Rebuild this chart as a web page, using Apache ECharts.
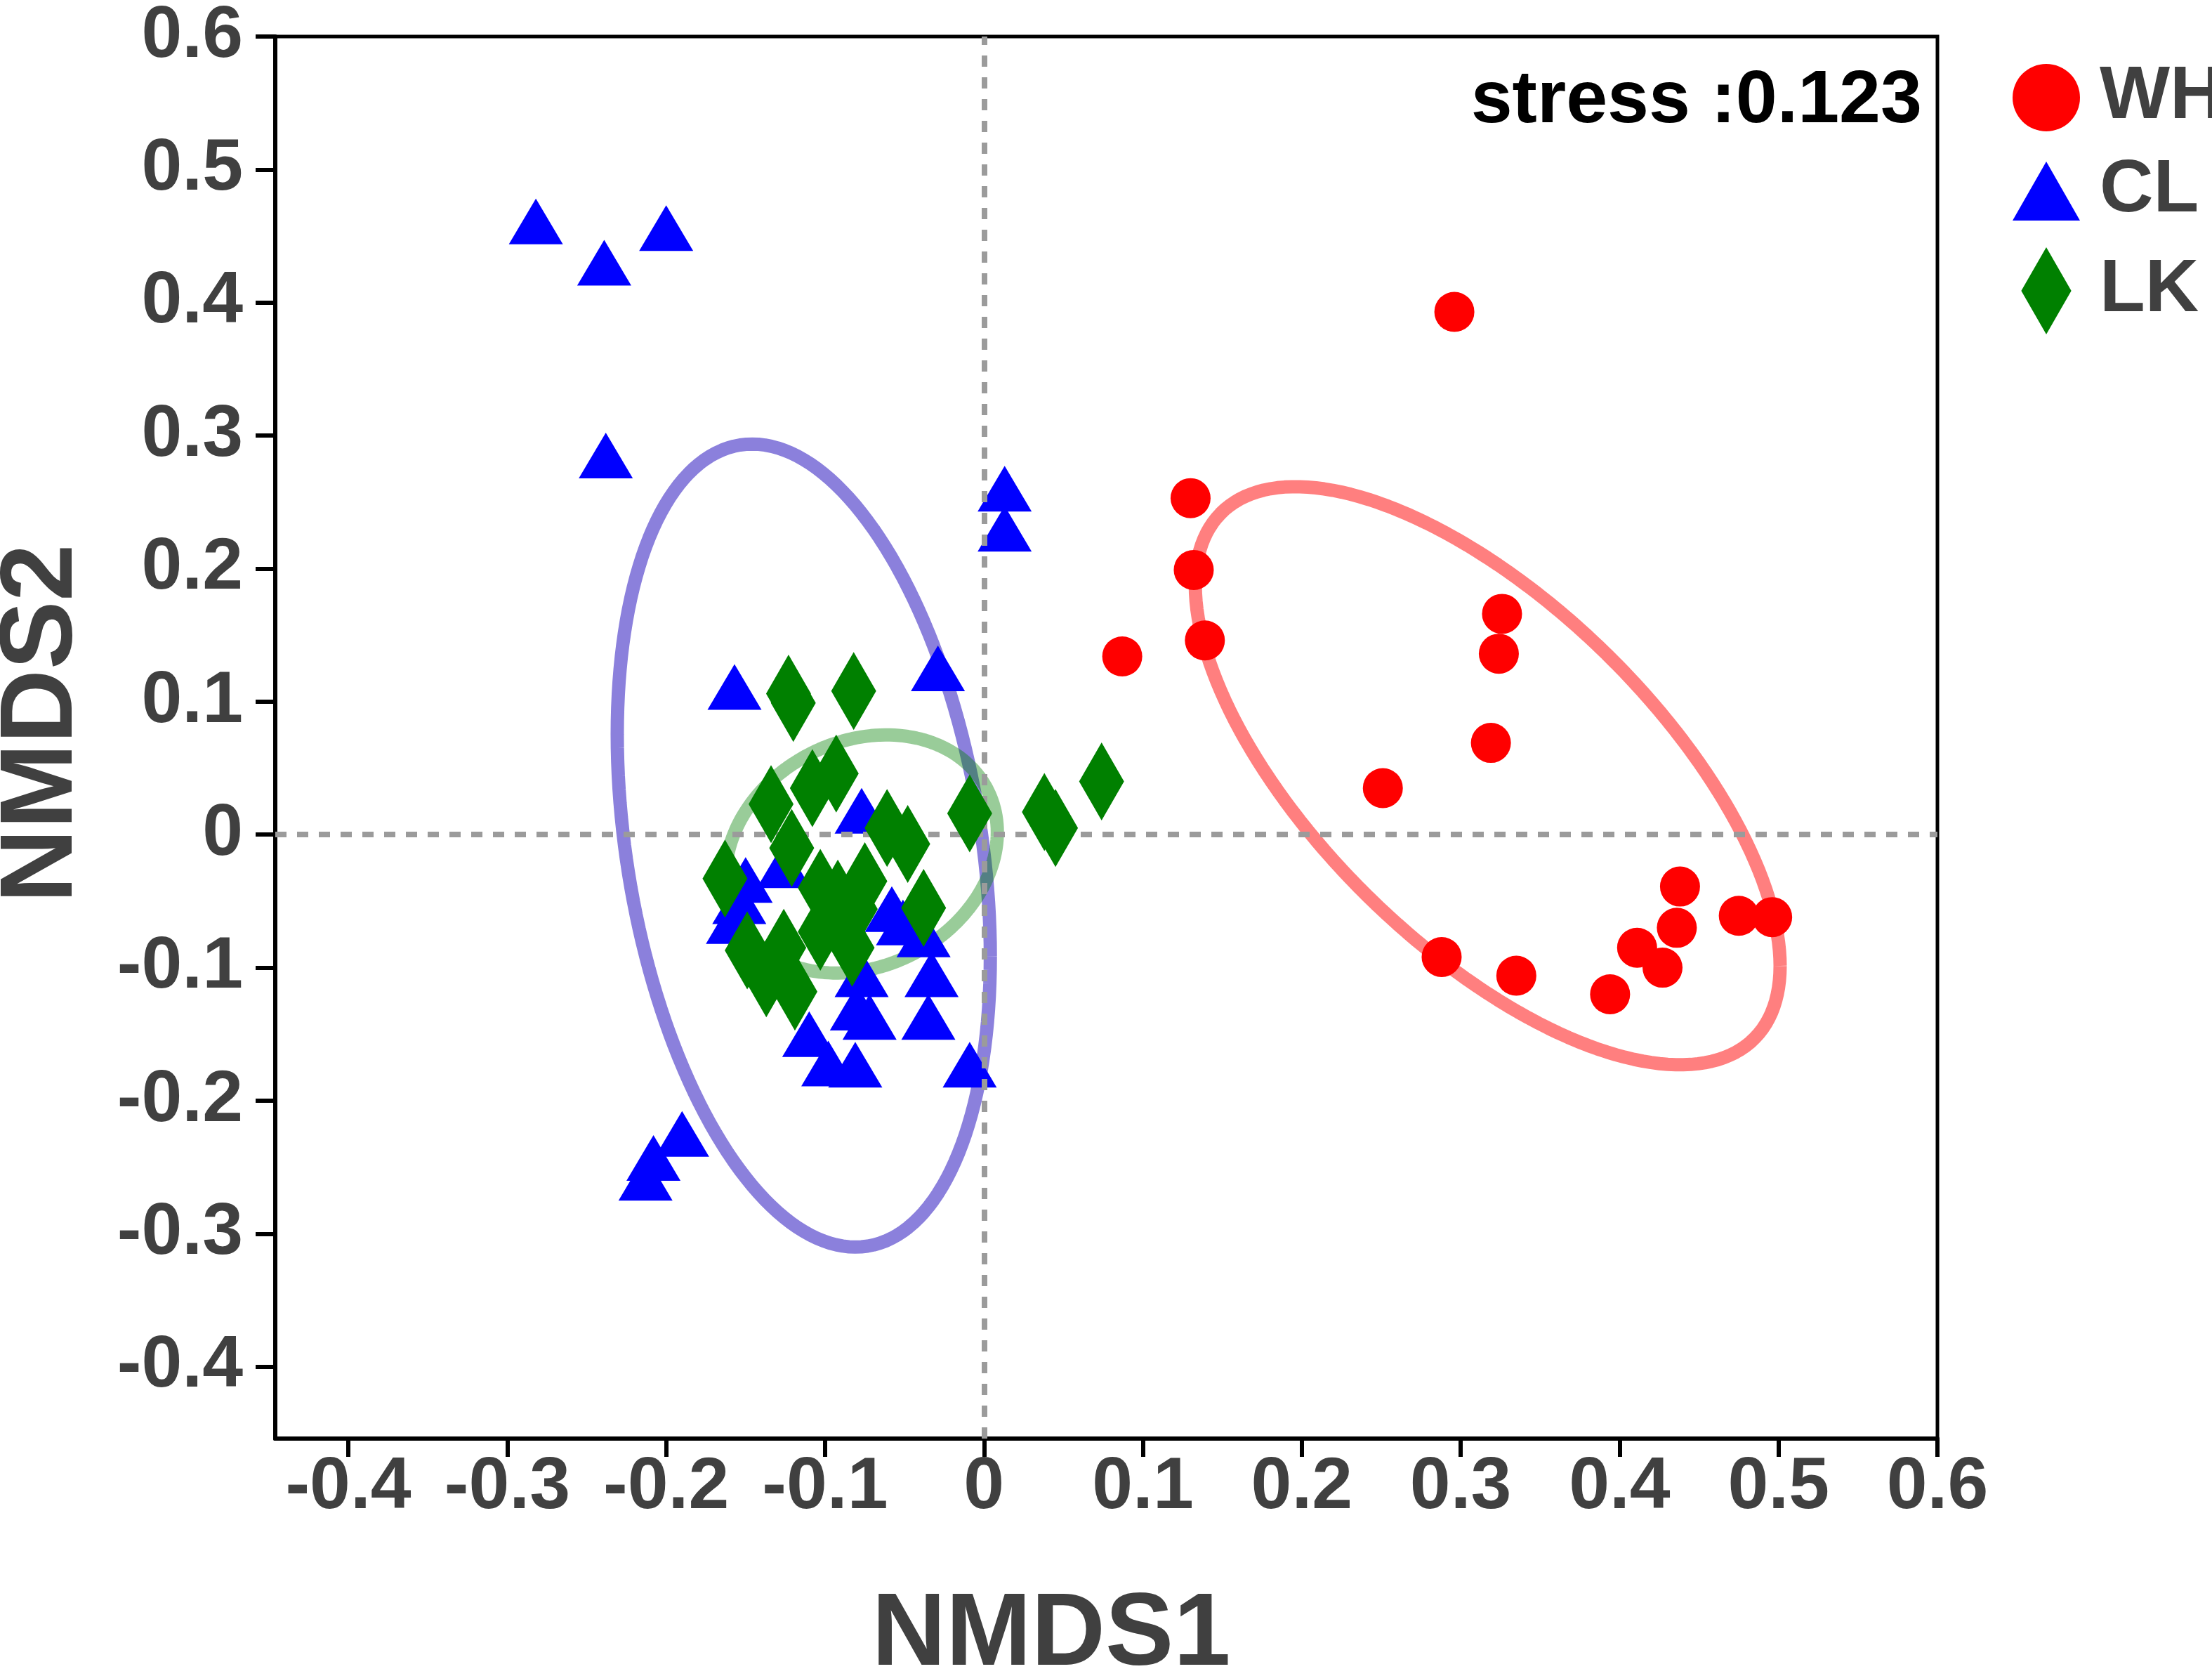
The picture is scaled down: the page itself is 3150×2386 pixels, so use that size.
<!DOCTYPE html>
<html>
<head>
<meta charset="utf-8">
<script src="https://cdn.jsdelivr.net/npm/echarts@6/dist/echarts.min.js"></script>
<style>
html, body { margin: 0; padding: 0; background: #fff; }
#chart { width: 3150px; height: 2386px; }
</style>
</head>
<body>
<div id="chart"></div>
<script>
// NMDS scores, one [NMDS1, NMDS2] pair per sample
var whPoints = [
  [0.296, 0.393], [0.087, 0.134], [0.130, 0.253], [0.132, 0.199], [0.139, 0.146],
  [0.326, 0.166], [0.324, 0.136], [0.319, 0.069], [0.251, 0.035], [0.438, -0.039],
  [0.475, -0.061], [0.496, -0.062], [0.436, -0.070], [0.411, -0.085], [0.427, -0.100],
  [0.288, -0.092], [0.335, -0.106], [0.394, -0.120]
];
var clPoints = [
  [-0.282, 0.461], [-0.239, 0.430], [-0.200, 0.456], [-0.238, 0.285], [0.013, 0.260],
  [0.013, 0.230], [-0.157, 0.111], [-0.029, 0.125], [-0.077, 0.018], [-0.150, -0.034],
  [-0.154, -0.050], [-0.158, -0.065], [-0.126, -0.023], [-0.058, -0.056], [-0.038, -0.075],
  [-0.033, -0.105], [-0.035, -0.137], [-0.077, -0.105], [-0.080, -0.130], [-0.072, -0.137],
  [-0.110, -0.150], [-0.098, -0.172], [-0.081, -0.173], [-0.009, -0.173], [-0.190, -0.225],
  [-0.208, -0.243], [-0.213, -0.258], [-0.051, -0.066]
];
var lkPoints = [
  [-0.123, 0.106], [-0.120, 0.099], [-0.082, 0.108], [-0.093, 0.046], [-0.108, 0.035],
  [-0.134, 0.023], [-0.121, -0.010], [-0.163, -0.033], [-0.061, 0.005], [-0.048, -0.007],
  [-0.038, -0.055], [-0.103, -0.040], [-0.081, -0.056], [-0.083, -0.085], [-0.103, -0.073],
  [-0.149, -0.087], [-0.137, -0.108], [-0.119, -0.118], [-0.126, -0.085], [-0.075, -0.035],
  [-0.092, -0.048], [-0.009, 0.016], [0.038, 0.017], [0.045, 0.005], [0.074, 0.040]
];

// ellipse centre and spread [sxx, sxy, syy] per group
var groupNames = ['WH', 'CL', 'LK'];
var ellipseCenters = [[0.317, 0.0443], [-0.1134, -0.0082], [-0.0771, -0.0145]];
var ellipseSpreads = [[0.03386, -0.0263, 0.04722], [0.01378, -0.0098, 0.0911], [0.00731, 0.0014, 0.00801]];

var xTicks = [-0.4, -0.3, -0.2, -0.1, 0, 0.1, 0.2, 0.3, 0.4, 0.5, 0.6];
var yTicks = [-0.4, -0.3, -0.2, -0.1, 0, 0.1, 0.2, 0.3, 0.4, 0.5, 0.6];
var stressText = 'stress :0.123';

var FONT = "'Liberation Sans', Arial, sans-serif";
var LABEL = '#404040';

// outline of an ellipse in data units
function ellipseOutline(c, s) {
  var a = Math.sqrt(s[0]);
  var b = s[1] / a;
  var d = Math.sqrt(s[2] - b * b);
  var pts = [];
  for (var i = 0; i <= 180; i++) {
    var t = i / 180 * 2 * Math.PI;
    pts.push([c[0] + a * Math.cos(t), c[1] + b * Math.cos(t) + d * Math.sin(t)]);
  }
  return pts;
}

function tickText(v) {
  return v === 0 ? '0' : v.toFixed(1);
}

var ellipseColors = ['rgba(255,0,0,0.5)', '#8b80dc', 'rgba(0,128,0,0.4)'];

var chart = echarts.init(document.getElementById('chart'));

var series = [
  {
    name: 'zero',
    type: 'line',
    data: [],
    silent: true,
    z: 1,
    markLine: {
      silent: true,
      symbol: ['none', 'none'],
      label: { show: false },
      lineStyle: { type: [16, 15], color: '#9b9b9b', width: 8 },
      data: [{ xAxis: 0 }, { yAxis: 0 }]
    }
  }
];

for (var g = 0; g < 3; g++) {
  series.push({
    name: groupNames[g] + ' ellipse',
    type: 'line',
    data: ellipseOutline(ellipseCenters[g], ellipseSpreads[g]),
    showSymbol: false,
    symbol: 'none',
    silent: true,
    z: 2,
    lineStyle: { color: ellipseColors[g], width: 19 }
  });
}

series.push(
  {
    name: 'WH', type: 'scatter', data: whPoints, z: 3,
    symbol: 'circle', symbolSize: 57,
    itemStyle: { color: '#ff0000', opacity: 1 }
  },
  {
    name: 'CL', type: 'scatter', data: clPoints, z: 4,
    symbol: 'triangle', symbolSize: [77, 65],
    itemStyle: { color: '#0000ff', opacity: 1 }
  },
  {
    name: 'LK', type: 'scatter', data: lkPoints, z: 5,
    symbol: 'diamond', symbolSize: [64, 111],
    itemStyle: { color: '#008000', opacity: 1 }
  }
);

var option = {
  animation: false,
  backgroundColor: '#ffffff',
  grid: {
    left: 392, right: 391, top: 45, bottom: 338,
    show: true, borderColor: '#000', borderWidth: 5, backgroundColor: 'transparent'
  },
  xAxis: {
    type: 'value',
    min: -0.446,
    max: 0.6,
    splitLine: { show: false },
    axisLine: { onZero: false, lineStyle: { color: '#000', width: 6 } },
    axisTick: { show: true, inside: false, length: 26, customValues: xTicks, lineStyle: { color: '#000', width: 6 } },
    axisLabel: {
      customValues: xTicks, formatter: tickText, margin: 18,
      color: LABEL, fontSize: 104, fontWeight: 'bold', fontFamily: FONT
    }
  },
  yAxis: {
    type: 'value',
    min: -0.454,
    max: 0.6,
    splitLine: { show: false },
    axisLine: { onZero: false, lineStyle: { color: '#000', width: 6 } },
    axisTick: { show: true, inside: false, length: 28, customValues: yTicks, lineStyle: { color: '#000', width: 6 } },
    axisLabel: {
      customValues: yTicks, formatter: tickText, margin: 46,
      color: LABEL, fontSize: 104, fontWeight: 'bold', fontFamily: FONT
    }
  },
  legend: {
    data: [
      { name: 'WH', icon: 'circle' },
      { name: 'CL', icon: 'path://M51.5,0L103,90L0,90Z' },
      { name: 'LK', icon: 'path://M36.5,0L73,63.5L36.5,127L0,63.5Z' }
    ],
    orient: 'vertical',
    left: 2866,
    top: 86,
    itemWidth: 96,
    itemHeight: 124,
    itemGap: 27,
    padding: 0,
    textStyle: {
      color: LABEL, fontSize: 106, fontWeight: 'bold', fontFamily: FONT,
      padding: [0, 0, 0, 23]
    }
  },
  graphic: [
    {
      type: 'text', x: 2737, y: 145,
      style: {
        text: stressText, fill: '#000', fontSize: 106, fontWeight: 'bold', fontFamily: FONT,
        textAlign: 'right', textVerticalAlign: 'middle'
      }
    },
    {
      type: 'text', x: 1497, y: 2330,
      style: {
        text: 'NMDS1', fill: LABEL, fontSize: 146, fontWeight: 'bold', fontFamily: FONT,
        textAlign: 'center', textVerticalAlign: 'middle'
      }
    },
    {
      type: 'text', x: 62, y: 1030, rotation: Math.PI / 2,
      style: {
        text: 'NMDS2', fill: LABEL, fontSize: 146, fontWeight: 'bold', fontFamily: FONT,
        textAlign: 'center', textVerticalAlign: 'middle'
      }
    }
  ],
  series: series
};

chart.setOption(option);
</script>
</body>
</html>
